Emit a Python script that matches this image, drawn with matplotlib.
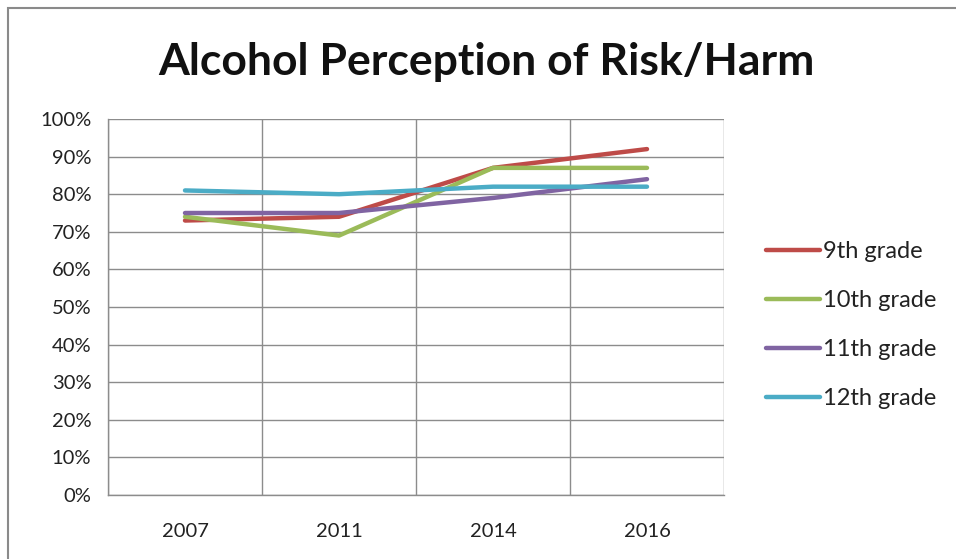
import matplotlib
matplotlib.use("Agg")
import matplotlib.pyplot as plt
from matplotlib.patches import Rectangle
from matplotlib.ticker import FixedLocator, PercentFormatter

years = ["2007", "2011", "2014", "2016"]
grade_9 = [73, 74, 87, 92]
grade_10 = [74, 69, 87, 87]
grade_11 = [75, 75, 79, 84]
grade_12 = [81, 80, 82, 82]
series_names = ["9th grade", "10th grade", "11th grade", "12th grade"]
series_values = [grade_9, grade_10, grade_11, grade_12]
series_colors = ["#BE4B48", "#9BBB59", "#8064A2", "#4BACC6"]

W, H = 956, 559
fig = plt.figure(figsize=(W / 100, H / 100), dpi=100)
fig.patch.set_facecolor("white")

# outer chart frame
fig.patches.append(Rectangle((8 / W, -0.1), 1.2, (H - 8) / H + 0.1,
                             transform=fig.transFigure, fill=False,
                             edgecolor="#8a8a8a", linewidth=1.5))

font = ["Lato", "DejaVu Sans"]

ax = fig.add_axes([108 / W, (H - 495) / H, 616 / W, 376 / H])
x = list(range(len(years)))
for name, vals, col in zip(series_names, series_values, series_colors):
    ax.plot(x, vals, color=col, linewidth=3.2, label=name,
            solid_capstyle="round", solid_joinstyle="round")

ax.set_xlim(-0.5, len(years) - 0.5)
ax.set_ylim(0, 100)
ax.yaxis.set_major_locator(FixedLocator(range(0, 101, 10)))
ax.yaxis.set_major_formatter(PercentFormatter(decimals=0))
ax.set_xticks(x)
ax.set_xticklabels(years)
ax.xaxis.set_minor_locator(FixedLocator([i - 0.5 for i in range(len(years) + 1)]))
ax.grid(True, axis="y", which="major", color="#8c8c8c", linewidth=1.0)
ax.grid(True, axis="x", which="minor", color="#8c8c8c", linewidth=1.0)
ax.set_axisbelow(True)
for s in ["top", "right"]:
    ax.spines[s].set_visible(False)
for s in ["left", "bottom"]:
    ax.spines[s].set_color("#8c8c8c")
    ax.spines[s].set_linewidth(1.0)
ax.tick_params(axis="both", which="both", length=0, labelsize=14.5, colors="#222222")
ax.tick_params(axis="x", pad=20)
ax.tick_params(axis="y", pad=12)
for lab in ax.get_xticklabels() + ax.get_yticklabels():
    lab.set_family(font)

fig.text(486 / W, 1 - 62 / H, "Alcohol Perception of Risk/Harm",
         ha="center", va="center", fontsize=32, fontweight="bold",
         family=font, color="#111111")

leg = ax.legend(loc="center left", bbox_to_anchor=(766 / W, 1 - 325 / H),
                bbox_transform=fig.transFigure, frameon=False,
                prop={"family": font, "size": 17}, handlelength=2.3,
                handletextpad=0.1, labelspacing=1.19, borderaxespad=0,
                borderpad=0)
for t in leg.get_texts():
    t.set_color("#222222")

fig.savefig("out.png", dpi=100, facecolor="white")
